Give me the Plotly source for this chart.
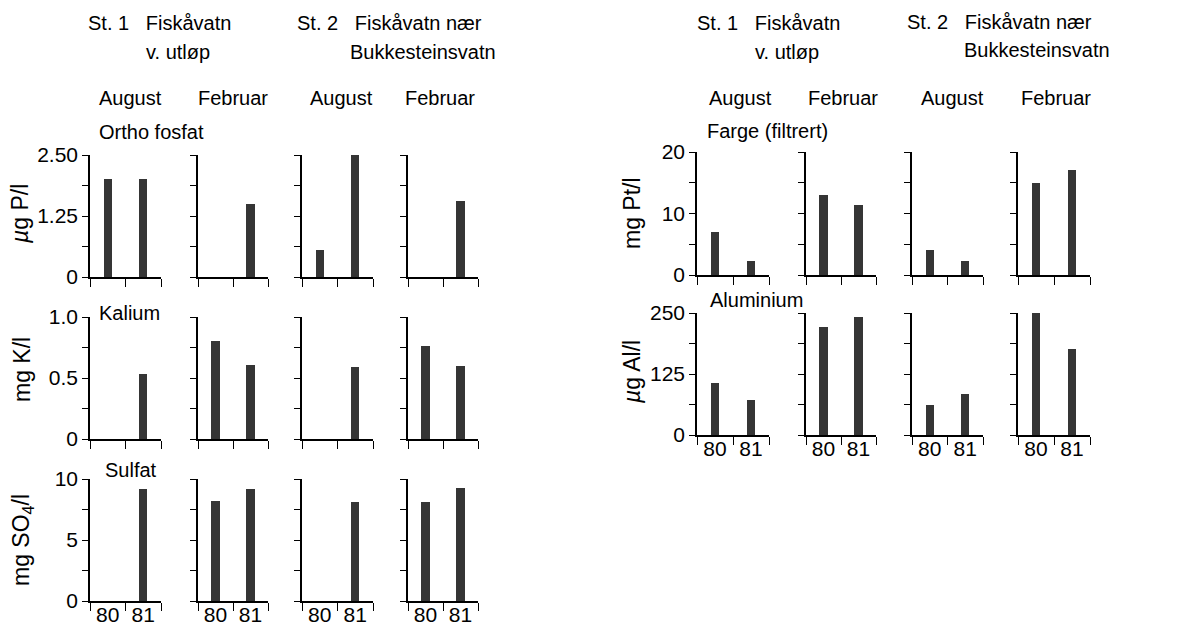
import plotly.graph_objects as go

W, H = 1198, 627

# ---------------- data ----------------
years = ["80", "81"]
panel_names = ["St. 1 August", "St. 1 Februar", "St. 2 August", "St. 2 Februar"]

ortho_fosfat = [[2.0, 2.0], [0, 1.5], [0.55, 2.5], [0, 1.55]]      # µg P/l
kalium = [[0, 0.53], [0.80, 0.61], [0, 0.59], [0.76, 0.60]]          # mg K/l
sulfat = [[0, 9.15], [8.2, 9.15], [0, 8.15], [8.15, 9.3]]            # mg SO4/l
farge = [[7.0, 2.2], [13.0, 11.4], [4.1, 2.2], [15.0, 17.0]]         # mg Pt/l
aluminium = [[107, 72], [222, 242], [61, 84], [250, 176]]            # µg Al/l

ymax = {"fosfat": 2.5, "kalium": 1.0, "sulfat": 10, "farge": 20, "aluminium": 250}
ylabels = {"fosfat": ["0", "1.25", "2.50"], "kalium": ["0", "0.5", "1.0"],
           "sulfat": ["0", "5", "10"], "farge": ["0", "10", "20"],
           "aluminium": ["0", "125", "250"]}

# ---------------- layout geometry (pixels) ----------------
left_x = [(90, 161), (198, 268), (302, 373), (408, 478)]
right_x = [(697, 769), (806, 876), (912, 983), (1018, 1090)]

rows = [
    ("fosfat", ortho_fosfat, left_x, (155, 277), False),
    ("kalium", kalium, left_x, (317, 439), False),
    ("sulfat", sulfat, left_x, (479, 601), True),
    ("farge", farge, right_x, (152, 275), False),
    ("aluminium", aluminium, right_x, (313, 435), True),
]

FONT = "Liberation Sans"
BAR = "#353535"
OFF = 8  # page offset of the plot inside the browser


def PX(x):
    return (x - OFF) / W


def PY(y):
    return 1 - (y - OFF) / H


fig = go.Figure()
layout = {}
n = 0
for key, data, xcols, (yt, yb), bottom in rows:
    for j, (x0, x1) in enumerate(xcols):
        n += 1
        xa = "x" if n == 1 else f"x{n}"
        ya = "y" if n == 1 else f"y{n}"
        fig.add_trace(go.Bar(
            x=[0.5, 1.5], y=data[j], width=0.23, xaxis=xa, yaxis=ya,
            marker=dict(color=BAR, line=dict(width=0)), showlegend=False,
            hovertext=[f"{panel_names[j]} {y}" for y in years],
        ))
        m = ymax[key]
        layout[f"xaxis{'' if n == 1 else n}"] = dict(
            domain=[PX(x0), PX(x1)], anchor=ya, range=[0, 2],
            showline=True, linecolor="black", linewidth=1.5,
            showgrid=False, zeroline=False, fixedrange=True, automargin=False,
            tickmode="array", tickvals=[0.5, 1.5], ticktext=years,
            showticklabels=bottom,
            ticks="", ticklen=0, ticklabelstandoff=-6,
            tickfont=dict(family=FONT, size=21, color="black"),
            minor=dict(tickmode="array", tickvals=[0, 1, 2], ticks="outside",
                       ticklen=8, tickwidth=1.3, tickcolor="black", showgrid=False),
        )
        layout[f"yaxis{'' if n == 1 else n}"] = dict(
            domain=[PY(yb), PY(yt)], anchor=xa, range=[0, m],
            showline=True, linecolor="black", linewidth=1.5,
            showgrid=False, zeroline=False, fixedrange=True, automargin=False,
            tickmode="array", tickvals=[0, m / 2, m], ticktext=ylabels[key],
            showticklabels=(j == 0),
            ticks="outside", ticklen=6, tickwidth=1.3, tickcolor="black",
            tickfont=dict(family=FONT, size=21, color="black"),
            minor=dict(tickmode="array", tickvals=[m / 4, 3 * m / 4], ticks="outside",
                       ticklen=6, tickwidth=1.3, tickcolor="black", showgrid=False),
        )

annotations = []


def txt(text, x, y, size=20, xanchor="center", angle=0):
    annotations.append(dict(text=text, x=PX(x), y=PY(y), xref="paper", yref="paper",
                            showarrow=False, xanchor=xanchor, yanchor="middle",
                            textangle=angle,
                            font=dict(family=FONT, size=size, color="black")))


SP = " \u00a0\u00a0"
for off in (0, 609):
    txt("St. 1" + SP + "Fiskåvatn", 86 + off, 23, xanchor="left")
    txt("v. utløp", 178 + off, 52)
txt("St. 2" + SP + "Fiskåvatn nær", 295, 23, xanchor="left")
txt("Bukkesteinsvatn", 498, 52, xanchor="right")
txt("St. 2" + SP + "Fiskåvatn nær", 905, 22, xanchor="left")
txt("Bukkesteinsvatn", 1112, 50, xanchor="right")

for cx, m in zip([130, 233, 341, 440, 740, 843, 952, 1056],
                 ["August", "Februar"] * 4):
    txt(m, cx, 98)

txt("Ortho fosfat", 97, 132, xanchor="left")
txt("Kalium", 97, 313, xanchor="left")
txt("Sulfat", 103, 470, xanchor="left")
txt("Farge (filtrert)", 705, 131, xanchor="left")
txt("Aluminium", 708, 300, xanchor="left")

txt("<i>µ</i>g P/l", 20, 214, size=23, angle=-90)
txt("mg K/l", 22, 370, size=23, angle=-90)
txt("mg SO<sub>4</sub>/l", 22, 540, size=23, angle=-90)
txt("mg Pt/l", 632, 213, size=23, angle=-90)
txt("<i>µ</i>g Al/l", 632, 372, size=23, angle=-90)

fig.update_layout(
    width=W, height=H, margin=dict(l=0, r=0, t=0, b=0),
    paper_bgcolor="white", plot_bgcolor="white",
    annotations=annotations, bargap=0, **layout,
)

fig.write_html("out.html", config={"displayModeBar": False})
